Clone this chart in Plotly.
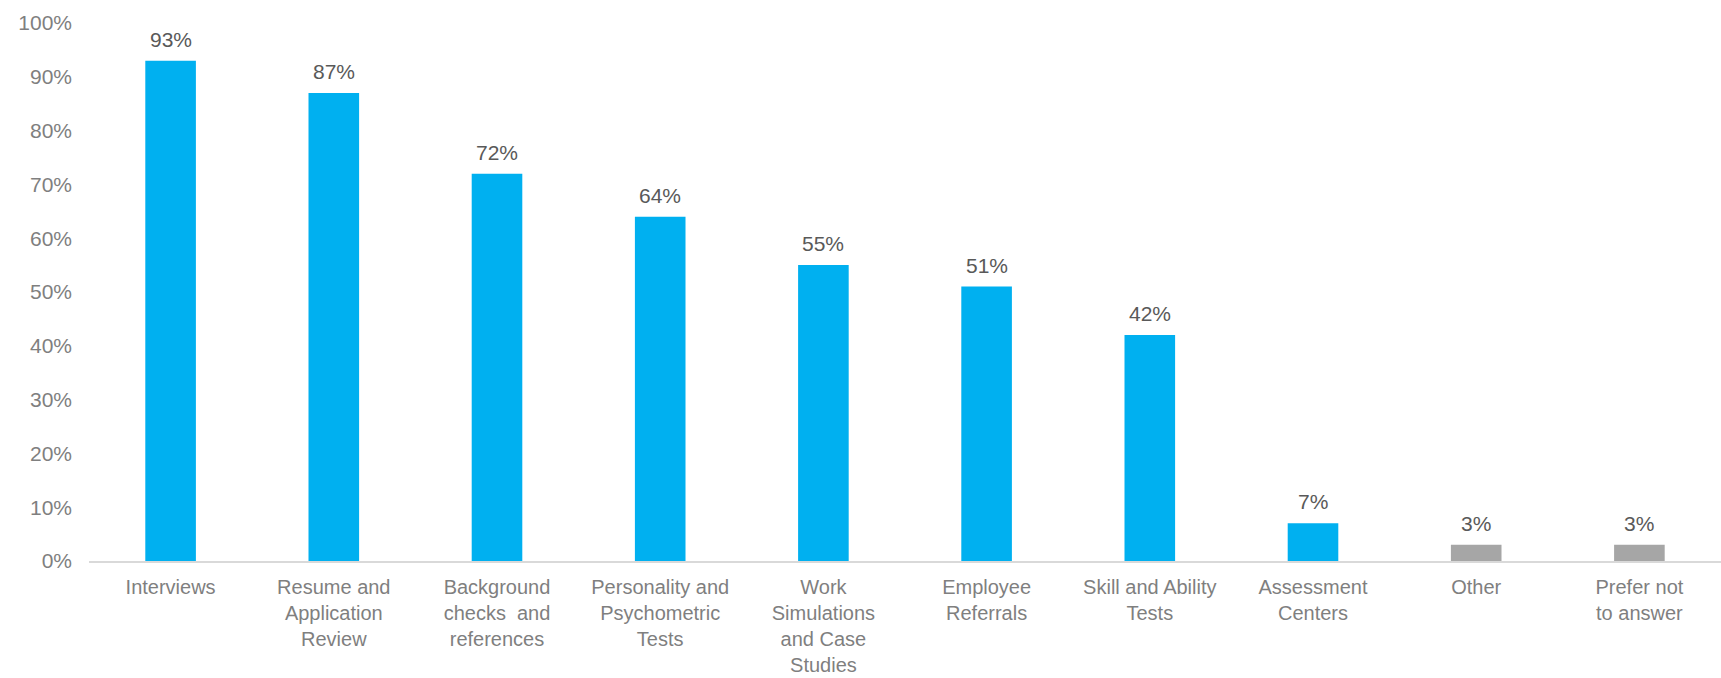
import plotly.graph_objects as go

# Selection methods used by organisations (share of respondents, %)
categories = [
    "Interviews",
    "Resume and<br>Application<br>Review",
    "Background<br>checks  and<br>references",
    "Personality and<br>Psychometric<br>Tests",
    "Work<br>Simulations<br>and Case<br>Studies",
    "Employee<br>Referrals",
    "Skill and Ability<br>Tests",
    "Assessment<br>Centers",
    "Other",
    "Prefer not<br>to answer",
]
values = [93, 87, 72, 64, 55, 51, 42, 7, 3, 3]
bar_colors = ["#00B0F0"] * 8 + ["#A6A6A6"] * 2

y_ticks = list(range(0, 101, 10))
y_tick_labels = [f"{t}%" for t in y_ticks]

FONT = "Liberation Sans, Arial, sans-serif"

fig = go.Figure(
    go.Bar(
        x=categories,
        y=values,
        marker=dict(color=bar_colors, line=dict(width=0)),
        hoverinfo="x+y",
    )
)

# Value labels floating above each bar
for cat, val in zip(categories, values):
    fig.add_annotation(
        x=cat,
        y=val,
        text=f"{val}%",
        showarrow=False,
        yanchor="bottom",
        yshift=8,
        font=dict(family=FONT, size=21, color="#595959"),
    )

fig.update_layout(
    width=1721,
    height=678,
    margin=dict(l=89, r=0, t=23, b=117),
    paper_bgcolor="white",
    plot_bgcolor="white",
    bargap=0.69,
    showlegend=False,
    font=dict(family=FONT, size=21, color="#7F7F7F"),
)

fig.update_xaxes(
    automargin=False,
    showline=True,
    linecolor="#D9D9D9",
    linewidth=2,
    showgrid=False,
    ticks="",
    tickfont=dict(family=FONT, size=20, color="#7F7F7F"),
    ticklabelstandoff=7,
    tickangle=0,
)

fig.update_yaxes(
    automargin=False,
    range=[0, 100],
    tickvals=y_ticks,
    ticktext=y_tick_labels,
    showline=False,
    showgrid=False,
    zeroline=False,
    ticks="",
    ticklabelstandoff=16,
    tickfont=dict(family=FONT, size=21, color="#7F7F7F"),
)

fig.write_html("out.html")
